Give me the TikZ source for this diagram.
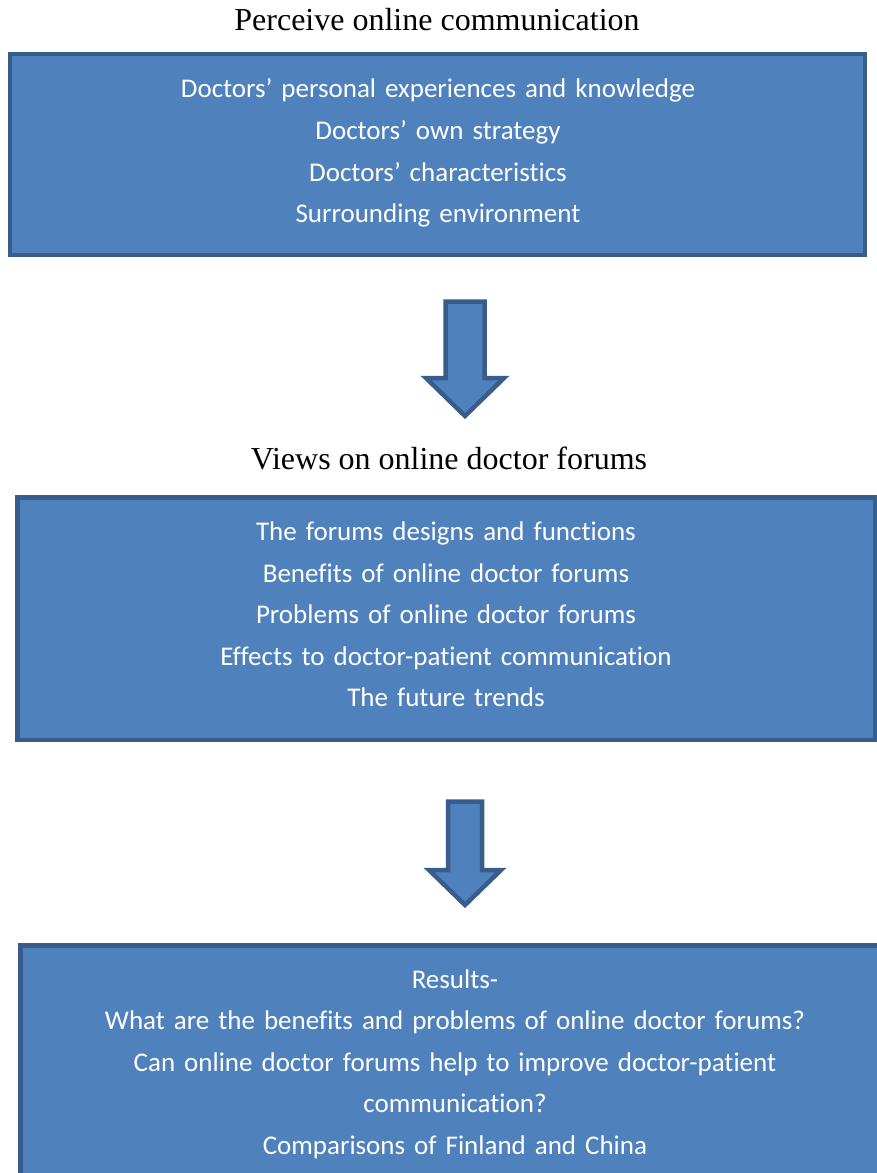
\documentclass[tikz,border=0pt]{standalone}
\usepackage{fontspec}
\setmainfont{Liberation Serif}
\newfontfamily\boxfont[Ligatures={NoCommon}]{Carlito}
\definecolor{panelfill}{HTML}{4F81BD}
\definecolor{paneledge}{HTML}{385D8A}
\begin{document}
\begin{tikzpicture}[x=1pt,y=-1pt,
  panel/.style={draw=paneledge,fill=panelfill,line width=4.5pt,inner sep=0pt},
  paneltext/.style={inner sep=0pt,text=white,align=center,text width=860pt,
    font=\boxfont\fontsize{27}{41.6}\selectfont},
  heading/.style={inner sep=0pt,font=\fontsize{32}{36}\selectfont},
  blockarrow/.style={draw=paneledge,fill=panelfill,line width=4.5pt,line join=miter}]
\useasboundingbox (0,0) rectangle (877,1173);
\clip (0,0) rectangle (877,1173);

% section headings
\node[heading] (h1) at (437,20) {Perceive online communication};
\node[heading] (h2) at (449,458) {Views on online doctor forums};

% content panels
\node[panel,minimum width=855pt,minimum height=201pt] (p1) at (437.5,154.5) {};
\node[paneltext] (t1) at (438,153) {Doctors’ personal experiences and knowledge\\
  Doctors’ own strategy\\ Doctors’ characteristics\\ Surrounding environment};

\node[panel,minimum width=858pt,minimum height=242.5pt] (p2) at (446.5,618.75) {};
\node[paneltext] (t2) at (446,614.5) {The forums designs and functions\\
  Benefits of online doctor forums\\ Problems of online doctor forums\\
  Effects to doctor-patient communication\\ The future trends};

\node[panel,minimum width=869pt,minimum height=241pt] (p3) at (455,1066) {};
\node[paneltext] (t3) at (455,1064) {Results-\\
  What are the benefits and problems of online doctor forums?\\
  Can online doctor forums help to improve doctor-patient\\
  communication?\\ Comparisons of Finland and China};

% block arrows between the panels
\coordinate (a1) at (465,301.5);
\coordinate (a2) at (465,801.5);
\draw[blockarrow] (a1) ++(-19.5,0) -- ++(0,76.5) -- ++(-19.5,0) -- ++(39,38)
  -- ++(39,-38) -- ++(-19.5,0) -- ++(0,-76.5) -- cycle;
\draw[blockarrow] (a2) ++(-17,0) -- ++(0,68.5) -- ++(-19,0) -- ++(36,35)
  -- ++(36,-35) -- ++(-19,0) -- ++(0,-68.5) -- cycle;
\end{tikzpicture}
\end{document}
